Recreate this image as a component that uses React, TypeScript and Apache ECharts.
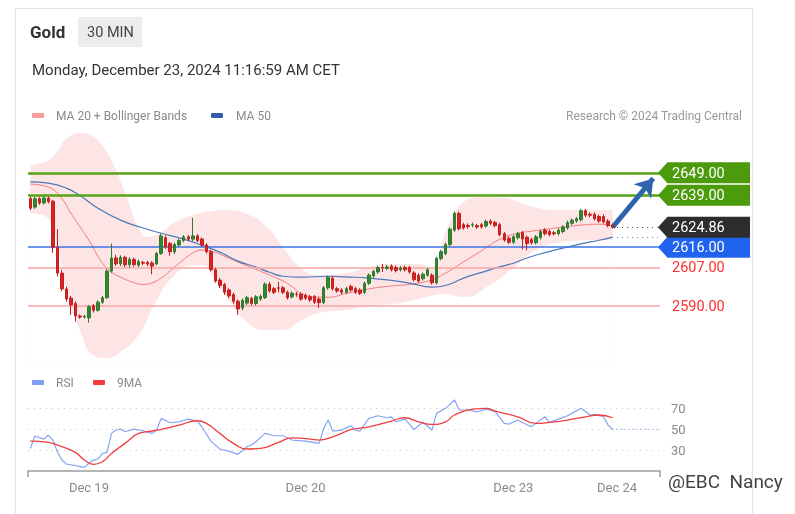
import React, { useEffect, useRef } from 'react';
import * as echarts from 'echarts';

// ---------- DATA ----------
const N_SLOTS = 140; // 30-min slots on the axis (130 candles + projection room)

// candles: [open, close, low, high]
const dec18: number[][] = [
  [2637.6, 2633.3, 2632.4, 2638.4], [2633.8, 2637.5, 2633.0, 2638.3], [2637.5, 2635.6, 2634.8, 2638.2],
  [2635.6, 2637.8, 2635.0, 2638.6], [2637.8, 2636.2, 2635.4, 2638.5], [2636.4, 2616.0, 2613.5, 2637.0],
  [2616.0, 2604.5, 2603.0, 2624.0], [2604.5, 2597.5, 2596.5, 2606.0], [2597.5, 2593.0, 2591.8, 2598.5],
  [2593.4, 2590.4, 2586.0, 2594.4], [2591.0, 2585.5, 2583.0, 2592.0], [2585.5, 2585.0, 2584.2, 2586.2],
  [2585.0, 2585.3, 2584.3, 2586.0],
];
const dec19: number[][] = [
  [2584.6, 2589.6, 2582.5, 2590.3], [2590.0, 2588.0, 2587.0, 2590.8], [2588.0, 2591.6, 2587.4, 2592.4],
  [2591.6, 2593.6, 2590.8, 2594.4], [2593.6, 2605.4, 2593.0, 2606.4], [2605.4, 2611.2, 2604.6, 2617.6],
  [2611.2, 2608.6, 2607.8, 2612.6], [2608.6, 2611.5, 2607.6, 2612.4], [2611.5, 2608.2, 2607.2, 2612.2],
  [2608.2, 2610.6, 2606.8, 2611.6], [2610.6, 2608.2, 2607.4, 2611.4], [2608.0, 2609.6, 2607.2, 2610.6],
  [2609.2, 2608.9, 2608.0, 2610.0], [2609.2, 2608.5, 2607.6, 2610.0], [2609.0, 2607.6, 2604.0, 2609.8],
  [2608.6, 2613.2, 2608.0, 2614.0], [2613.2, 2621.0, 2612.6, 2622.0], [2620.2, 2616.2, 2615.2, 2621.2],
  [2617.6, 2614.0, 2612.2, 2618.4], [2614.0, 2617.2, 2613.0, 2618.0], [2617.0, 2619.0, 2616.2, 2619.8],
  [2619.0, 2620.6, 2618.2, 2621.4], [2620.6, 2619.6, 2618.8, 2621.4], [2619.6, 2621.0, 2618.6, 2629.0],
  [2621.0, 2619.0, 2618.2, 2621.8], [2619.6, 2617.0, 2616.2, 2620.4], [2617.0, 2614.0, 2613.2, 2617.8],
  [2614.0, 2606.0, 2605.2, 2614.8], [2606.0, 2601.0, 2600.2, 2606.8], [2601.4, 2599.0, 2597.8, 2602.4],
  [2599.4, 2596.0, 2594.8, 2600.2], [2597.0, 2594.4, 2593.4, 2597.8], [2595.0, 2592.0, 2591.0, 2595.8],
  [2592.0, 2588.6, 2586.0, 2592.8], [2589.0, 2592.4, 2588.0, 2593.2], [2591.2, 2593.6, 2590.4, 2594.4],
  [2593.2, 2591.0, 2590.2, 2594.0], [2591.0, 2594.0, 2590.2, 2594.8], [2593.0, 2594.2, 2592.2, 2595.0],
  [2593.6, 2599.6, 2593.0, 2600.4], [2599.6, 2596.6, 2595.8, 2600.6], [2597.6, 2596.0, 2595.2, 2598.4],
  [2598.0, 2597.8, 2596.0, 2600.6], [2598.0, 2596.0, 2595.2, 2598.8], [2596.0, 2593.6, 2592.8, 2596.8],
  [2594.0, 2595.6, 2593.2, 2596.4], [2595.2, 2595.0, 2594.0, 2596.2], [2595.2, 2593.0, 2592.2, 2596.0],
];
const dec20: number[][] = [
  [2594.6, 2593.4, 2592.6, 2595.4], [2594.0, 2592.6, 2591.8, 2594.8], [2594.0, 2591.6, 2590.8, 2594.8],
  [2593.0, 2591.4, 2589.0, 2593.8], [2591.4, 2598.0, 2590.8, 2598.8], [2598.0, 2602.6, 2597.2, 2603.4],
  [2602.2, 2597.6, 2596.8, 2603.2], [2597.6, 2596.6, 2595.8, 2598.4], [2597.0, 2596.0, 2595.2, 2597.8],
  [2596.0, 2597.6, 2595.2, 2598.4], [2598.6, 2597.0, 2596.2, 2599.4], [2597.6, 2596.0, 2595.2, 2598.4],
  [2597.0, 2595.6, 2594.8, 2597.8], [2596.0, 2600.0, 2595.2, 2600.8], [2600.0, 2603.6, 2599.2, 2604.4],
  [2603.2, 2605.2, 2602.4, 2606.0], [2605.0, 2607.0, 2604.2, 2607.8], [2607.0, 2606.8, 2605.0, 2608.6],
  [2606.6, 2607.2, 2605.8, 2608.2], [2607.6, 2606.0, 2605.2, 2608.4], [2607.0, 2605.6, 2604.8, 2607.8],
  [2606.0, 2606.8, 2605.2, 2607.6], [2607.0, 2606.0, 2605.2, 2607.8], [2607.0, 2605.0, 2604.2, 2607.8],
  [2604.6, 2601.6, 2600.8, 2605.4], [2603.6, 2601.0, 2600.2, 2604.4], [2602.0, 2604.0, 2601.2, 2604.8],
  [2603.6, 2606.0, 2602.8, 2606.8], [2603.6, 2600.2, 2599.4, 2604.4], [2600.2, 2611.0, 2599.4, 2611.8],
  [2611.0, 2614.0, 2610.2, 2614.8], [2613.2, 2617.2, 2612.4, 2618.0], [2617.2, 2624.0, 2616.4, 2624.8],
  [2623.6, 2631.0, 2622.8, 2631.8], [2631.0, 2624.2, 2623.4, 2631.8], [2626.0, 2624.6, 2623.8, 2626.8],
  [2625.6, 2625.2, 2624.2, 2626.6], [2625.8, 2626.0, 2624.8, 2627.0], [2625.6, 2625.0, 2624.0, 2626.4],
  [2626.0, 2625.0, 2624.2, 2626.8], [2625.4, 2627.4, 2624.6, 2628.2], [2627.6, 2626.6, 2625.8, 2628.4],
  [2627.0, 2625.6, 2624.8, 2627.8], [2626.0, 2621.6, 2620.8, 2626.8], [2622.0, 2619.2, 2618.4, 2622.8],
  [2620.0, 2618.2, 2617.4, 2620.8],
];
const dec23: number[][] = [
  [2618.2, 2620.6, 2617.4, 2621.4], [2620.2, 2622.0, 2619.4, 2622.8], [2622.4, 2619.6, 2615.0, 2623.2],
  [2620.4, 2617.6, 2614.6, 2621.2], [2619.4, 2618.0, 2617.2, 2620.2], [2618.0, 2620.6, 2617.2, 2621.4],
  [2620.2, 2623.0, 2619.4, 2623.8], [2623.6, 2622.0, 2621.2, 2624.4], [2623.0, 2621.6, 2620.8, 2623.8],
  [2622.4, 2622.0, 2621.2, 2623.2], [2622.0, 2623.6, 2621.2, 2624.4], [2623.0, 2625.0, 2622.2, 2625.8],
  [2624.6, 2627.0, 2623.8, 2627.8], [2626.6, 2628.0, 2625.8, 2628.8], [2627.6, 2628.6, 2626.8, 2629.4],
  [2628.2, 2632.2, 2627.4, 2633.0], [2632.2, 2630.2, 2629.4, 2633.0], [2630.6, 2630.2, 2629.2, 2631.4],
  [2630.6, 2628.6, 2627.8, 2631.4], [2629.6, 2627.6, 2626.8, 2630.4], [2629.6, 2627.2, 2626.4, 2630.6],
  [2627.6, 2625.6, 2624.8, 2628.4], [2625.6, 2624.86, 2624.2, 2626.4],
];

// indicator readings: [slot index, value]
const ma20Pts: number[][] = [
  [0, 2644.0], [4, 2642.7], [7, 2637.5], [9, 2631.1], [11, 2625.0], [13, 2619.1], [16, 2608.9], [18, 2605.0],
  [20, 2602.7], [23, 2600.3], [25, 2599.5], [27, 2600.2], [29, 2602.3], [31, 2605.5], [33, 2608.9], [36, 2613.4],
  [38, 2614.7], [40, 2614.3], [43, 2612.0], [46, 2609.4], [49, 2607.0], [52, 2604.5], [56, 2601.0], [58, 2598.5],
  [60, 2595.5], [63, 2594.0], [66, 2593.8], [70, 2595.5], [75, 2597.5], [80, 2598.8], [84, 2599.5], [89, 2601.5],
  [92, 2604.5], [96, 2609.5], [100, 2614.5], [104, 2619.5], [108, 2622.2], [111, 2623.1], [115, 2624.2],
  [118, 2624.9], [122, 2625.8], [126, 2626.2], [129, 2625.4],
];
const ma50Pts: number[][] = [
  [0, 2645.0], [4, 2644.4], [8, 2642.2], [11, 2638.9], [15, 2633.3], [20, 2628.0], [25, 2624.5], [29, 2622.2],
  [34, 2619.6], [38, 2616.9], [42, 2613.8], [46, 2609.8], [50, 2607.2], [53, 2604.9], [56, 2603.1], [60, 2602.7],
  [66, 2603.1], [70, 2602.8], [75, 2602.3], [80, 2601.3], [84, 2600.1], [89, 2598.3], [92, 2599.0], [96, 2602.3],
  [100, 2604.8], [103, 2606.7], [107, 2608.9], [110, 2611.2], [114, 2613.6], [118, 2615.6], [122, 2617.5],
  [126, 2619.1], [129, 2620.5],
];
const bbUpperPts: number[][] = [
  [0, 2652.4], [4, 2654.6], [6, 2658.5], [8, 2664.0], [11, 2666.6], [14, 2665.0], [16, 2661.0], [18, 2654.6],
  [21, 2640.4], [24, 2624.5], [26, 2620.5], [29, 2622.7], [32, 2627.1], [36, 2630.2], [40, 2632.0], [44, 2632.5],
  [48, 2630.7], [52, 2625.8], [56, 2616.0], [60, 2606.7], [64, 2603.6], [70, 2604.5], [76, 2607.6], [82, 2608.5],
  [86, 2608.5], [89, 2606.7], [92, 2622.7], [96, 2636.0], [100, 2638.2], [105, 2637.8], [110, 2634.7],
  [116, 2632.5], [122, 2632.5], [129, 2632.5],
];
const bbLowerPts: number[][] = [
  [0, 2631.1], [4, 2628.9], [6, 2617.0], [8, 2597.0], [11, 2579.2], [14, 2568.1], [17, 2566.8], [20, 2569.5],
  [24, 2577.0], [28, 2592.5], [32, 2603.6], [36, 2608.0], [38, 2608.0], [41, 2601.4], [44, 2592.5], [48, 2582.8],
  [52, 2579.2], [56, 2579.2], [60, 2583.6], [64, 2586.8], [70, 2588.1], [76, 2590.0], [82, 2591.2], [88, 2594.0],
  [92, 2595.2], [96, 2593.9], [102, 2599.5], [107, 2606.7], [112, 2614.7], [118, 2618.3], [124, 2619.1],
  [129, 2619.1],
];
const rsiPts: number[][] = [
  [0, 31.4], [1, 43.5], [3, 40.5], [4, 44.4], [5, 39.6], [6, 28.4], [7, 20.4], [8, 16.6], [10, 15.0], [12, 13.4],
  [13, 17.3], [14, 20.4], [15, 21.4], [16, 26.8], [17, 27.8], [18, 46.0], [19, 49.2], [20, 50.1], [21, 47.6],
  [23, 50.1], [25, 48.5], [27, 46.0], [28, 49.2], [29, 60.4], [31, 56.2], [33, 57.1], [35, 59.7], [37, 57.8],
  [38, 52.3], [40, 38.6], [42, 31.0], [44, 29.0], [46, 25.9], [48, 33.2], [49, 34.8], [50, 38.0], [52, 46.0],
  [54, 43.7], [56, 43.7], [58, 39.6], [61, 38.6], [64, 36.4], [65, 50.8], [66, 58.8], [67, 48.2], [69, 49.2],
  [70, 51.3], [71, 53.3], [72, 49.2], [73, 48.2], [75, 60.4], [77, 62.9], [79, 61.0], [80, 61.9], [81, 57.1],
  [83, 59.7], [85, 49.8], [87, 56.6], [89, 49.2], [90, 65.2], [92, 70.0], [94, 78.0], [95, 68.4], [97, 68.4],
  [99, 66.7], [101, 69.3], [103, 66.7], [105, 55.6], [106, 54.9], [108, 58.8], [109, 56.5], [111, 52.3],
  [112, 55.6], [114, 61.9], [115, 56.5], [117, 59.7], [119, 62.9], [120, 65.2], [122, 70.0], [124, 63.6],
  [125, 64.2], [127, 61.9], [128, 53.9], [129, 49.8],
];
const rsiMaPts: number[][] = [
  [0, 38.6], [4, 37.3], [7, 33.2], [10, 27.8], [12, 20.4], [14, 16.3], [16, 18.8], [18, 26.8], [21, 36.4],
  [24, 46.0], [26, 47.6], [29, 49.8], [33, 53.9], [37, 58.1], [39, 55.6], [42, 46.0], [45, 36.4], [48, 31.0],
  [51, 31.6], [55, 37.3], [58, 41.7], [62, 40.5], [64, 39.6], [68, 44.4], [71, 49.5], [75, 52.3], [80, 57.8],
  [83, 61.0], [86, 57.1], [89, 54.6], [92, 57.1], [94, 63.6], [98, 69.3], [101, 70.0], [103, 67.4], [108, 61.9],
  [112, 55.6], [115, 56.5], [119, 58.8], [123, 61.9], [126, 63.6], [129, 61.0],
];

const dateLabelIdx = [13, 61, 107, 130];
const dateLabelTxt = ['Dec 19', 'Dec 20', 'Dec 23', 'Dec 24'];
const resistances = [2649, 2639];
const pivots = [2616];
const supports = [2607, 2590];
const lastPrice = 2624.86;
const rsiLevels = [70, 50, 30];
const projectionEndSlot = 138;
const projectionEndValue = 2646.5;

const FONT = 'Roboto, "Noto Sans", Arial, sans-serif';

export default function App() {
  const ref = useRef<HTMLDivElement>(null);

  useEffect(() => {
    const chart = echarts.init(ref.current as HTMLDivElement, null, { renderer: 'svg' });
    const candles = [...dec18, ...dec19, ...dec20, ...dec23];
    const lastIdx = candles.length - 1;
    const cats = Array.from({ length: N_SLOTS }, (_, i) => String(i));
    const ma50Last = ma50Pts[ma50Pts.length - 1][1];
    const rsiLast = rsiPts[rsiPts.length - 1];

    const option: any = {
      animation: false,
      grid: [
        { left: 28, top: 130, width: 632, height: 234.4 },
        { left: 28, top: 387.5, width: 632, height: 83.4 },
      ],
      xAxis: [
        { type: 'category', gridIndex: 0, data: cats, boundaryGap: true, show: false },
        {
          type: 'category', gridIndex: 1, data: cats, boundaryGap: true,
          axisLine: { show: true, onZero: false, lineStyle: { color: '#9c9c9c', width: 1.5 } },
          axisTick: { show: true, interval: (i: number) => i === 0, length: 6, lineStyle: { color: '#9c9c9c', width: 1.5 } },
          axisLabel: {
            interval: (i: number) => dateLabelIdx.includes(i),
            formatter: (_v: string, i: number) => {
              const k = dateLabelIdx.indexOf(i);
              return k >= 0 ? dateLabelTxt[k] : '';
            },
            color: '#8a8a8a', fontSize: 13, margin: 10, fontFamily: FONT,
          },
          splitLine: { show: false },
        },
      ],
      yAxis: [
        { type: 'value', gridIndex: 0, min: 2564, max: 2668, show: false },
        { type: 'value', gridIndex: 1, min: 10, max: 90, show: false },
      ],
      series: [
        {
          name: 'BB upper', type: 'line', xAxisIndex: 0, yAxisIndex: 0, data: bbUpperPts, smooth: true,
          symbol: 'none', z: 1, silent: true,
          lineStyle: { width: 0, opacity: 0 },
          areaStyle: { color: 'rgba(250,175,175,0.33)', origin: 'start', opacity: 1 },
        },
        {
          name: 'BB lower', type: 'line', xAxisIndex: 0, yAxisIndex: 0, data: bbLowerPts, smooth: true,
          symbol: 'none', z: 1, silent: true,
          lineStyle: { width: 0, opacity: 0 },
          areaStyle: { color: '#ffffff', origin: 'start', opacity: 1 },
        },
        {
          name: 'MA 20', type: 'line', xAxisIndex: 0, yAxisIndex: 0, data: ma20Pts, smooth: true,
          symbol: 'none', z: 3, silent: true, lineStyle: { color: '#f27a7a', width: 1 },
        },
        {
          name: 'MA 50', type: 'line', xAxisIndex: 0, yAxisIndex: 0, data: ma50Pts, smooth: true,
          symbol: 'none', z: 3, silent: true, lineStyle: { color: '#4d76bb', width: 1.2 },
        },
        {
          name: 'Gold', type: 'candlestick', xAxisIndex: 0, yAxisIndex: 0, data: candles, barWidth: 3, z: 6,
          silent: true,
          itemStyle: {
            color: '#2f8a2f', color0: '#dc2323', borderColor: '#2f7a2f', borderColor0: '#c21f1f', borderWidth: 1,
          },
          markLine: {
            silent: true, symbol: 'none', animation: false, z: 4,
            label: { show: false },
            emphasis: { disabled: true },
            data: [
              ...resistances.map((v) => ({ yAxis: v, lineStyle: { color: '#56a514', width: 2.5, type: 'solid' } })),
              ...pivots.map((v) => ({ yAxis: v, lineStyle: { color: '#3b73e4', width: 1.5, type: 'solid' } })),
              ...supports.map((v) => ({ yAxis: v, lineStyle: { color: '#f7a6a6', width: 1.5, type: 'solid' } })),
              [
                { coord: [lastIdx + 1, lastPrice], lineStyle: { color: '#444', width: 1.2, type: [1, 4] } },
                { coord: [N_SLOTS - 1, lastPrice], lineStyle: { color: '#444', width: 1.2, type: [1, 4] } },
              ],
              [
                { coord: [lastIdx + 1, ma50Last], lineStyle: { color: '#5b7fc0', width: 1.2, type: [1, 4] } },
                { coord: [N_SLOTS - 1, ma50Last], lineStyle: { color: '#5b7fc0', width: 1.2, type: [1, 4] } },
              ],
              [
                { coord: [lastIdx, lastPrice], symbol: 'none', lineStyle: { color: '#2f63ae', width: 5, type: 'solid' } },
                { coord: [projectionEndSlot, projectionEndValue], symbol: 'arrow', symbolSize: 17, lineStyle: { color: '#2f63ae', width: 5, type: 'solid' } },
              ],
            ],
          },
        },
        {
          name: 'RSI', type: 'line', xAxisIndex: 1, yAxisIndex: 1, data: rsiPts, symbol: 'none', silent: true,
          lineStyle: { color: '#86a4f2', width: 1.2 }, z: 3,
        },
        {
          name: 'RSI ext', type: 'line', xAxisIndex: 1, yAxisIndex: 1, symbol: 'none', silent: true,
          data: [rsiLast, [N_SLOTS - 1, rsiLast[1]]],
          lineStyle: { color: '#86a4f2', width: 1.2, type: [1, 3] }, z: 3,
        },
        {
          name: '9MA', type: 'line', xAxisIndex: 1, yAxisIndex: 1, data: rsiMaPts, symbol: 'none', smooth: true,
          silent: true, lineStyle: { color: '#f03e3e', width: 1.3 }, z: 4,
          markLine: {
            silent: true, symbol: 'none', animation: false, z: 1,
            lineStyle: { color: '#c4c4c4', width: 1, type: [1, 5] },
            label: { show: true, position: 'end', formatter: '{c}', color: '#8a8a8a', fontSize: 13, distance: 11, fontFamily: FONT },
            emphasis: { disabled: true },
            data: rsiLevels.map((v) => ({ yAxis: v })),
          },
        },
      ],
    };
    chart.setOption(option);

    const yPx = (v: number) => chart.convertToPixel({ yAxisIndex: 0 } as any, v) as number;
    const tag = (v: number, fill: string, z = 100) => {
      const y = yPx(v);
      return [
        {
          type: 'polygon', z, silent: true,
          shape: { points: [[658, y], [667.5, y - 10.5], [750, y - 10.5], [750, y + 10.5], [667.5, y + 10.5]] },
          style: { fill },
        },
        {
          type: 'text', z: z + 1, x: 672, y: y + 0.5, silent: true,
          style: { text: v.toFixed(2), fill: '#ffffff', fontSize: 14.5, fontFamily: FONT, verticalAlign: 'middle', align: 'left' },
        },
      ];
    };
    const plainText = (text: string, x: number, y: number, extra: any = {}) => ({
      type: 'text', x, y, silent: true, z: 50,
      style: { text, fontFamily: FONT, fontSize: 12, fill: '#8a8a8a', verticalAlign: 'middle', align: 'left', ...extra },
    });
    const swatch = (x: number, y: number, fill: string) => ({
      type: 'rect', silent: true, z: 50, shape: { x, y: y - 2.5, width: 12, height: 5, r: 1 }, style: { fill },
    });

    const graphics: any[] = [
      {
        type: 'rect', z: -10, silent: true,
        shape: { x: 15.5, y: 8.5, width: 737, height: 530 },
        style: { fill: '#ffffff', stroke: '#e2e2e2', lineWidth: 1 },
      },
      { type: 'rect', z: 40, silent: true, shape: { x: 78, y: 17, width: 64, height: 30, r: 2 }, style: { fill: '#ececec' } },
      plainText('Gold', 30, 32, { fontSize: 17, fontWeight: 'bold', fill: '#333333' }),
      plainText('30 MIN', 87, 32.5, { fontSize: 14.5, fill: '#444444' }),
      plainText('Monday, December 23, 2024 11:16:59 AM CET', 32, 69.5, { fontSize: 15, fill: '#333333' }),
      swatch(32, 115.5, '#f59c9c'),
      plainText('MA 20 + Bollinger Bands', 56, 115.5),
      swatch(211, 115.5, '#2f5ea7'),
      plainText('MA 50', 236, 115.5),
      plainText('Research © 2024 Trading Central', 742, 115.5, { align: 'right', fill: '#999999' }),
      swatch(32, 382.5, '#7c9ff0'),
      plainText('RSI', 56, 382.5),
      swatch(93, 382.5, '#f33b3b'),
      plainText('9MA', 117, 382.5),
      plainText('@EBC  Nancy', 668, 481, { fontSize: 19, fill: '#444444' }),
      ...resistances.flatMap((v) => tag(v, '#4b9b0d')),
      ...tag(lastPrice, '#2d2d2d', 110),
      ...pivots.flatMap((v) => tag(v, '#1f63ee')),
      ...supports.map((v) => plainText(v.toFixed(2), 672, yPx(v) + 0.5, { fontSize: 14.5, fill: '#ff2e2e' })),
    ];
    chart.setOption({ graphic: graphics });

    return () => chart.dispose();
  }, []);

  return <div ref={ref} style={{ position: 'fixed', left: 0, top: 0, width: 795, height: 514 }} />;
}
